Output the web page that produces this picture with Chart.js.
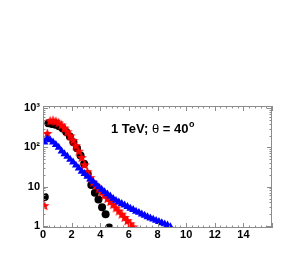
<!DOCTYPE html>
<html lang="en">
<head>
  <meta charset="UTF-8">
  <title>1 TeV; theta = 40</title>
  <script src="https://cdn.jsdelivr.net/npm/chart.js"></script>
  <style>
    html, body { margin: 0; padding: 0; background: #fff; }
    #wrap { width: 305px; height: 256px; }
  </style>
</head>
<body>
<div id="wrap"><canvas id="c" width="305" height="256"></canvas></div>
<script>
  // black circles
  const blackX = [0.125, 0.375, 0.625, 0.875, 1.125, 1.375, 1.625, 1.875, 2.125, 2.375,
                  2.625, 2.875, 3.125, 3.375, 3.625, 3.875, 4.125, 4.375, 4.625];
  const blackY = [5.5, 410, 395, 375, 345, 300, 245, 190, 135, 95,
                  62, 38, 21, 11, 7, 4.7, 3, 2, 0.92];

  // red stars
  const redX = [0.1, 0.3, 0.5, 0.7, 0.9, 1.1, 1.3, 1.5, 1.7, 1.9, 2.1, 2.3, 2.5, 2.7, 2.9,
                3.1, 3.3, 3.5, 3.7, 3.9, 4.1, 4.3, 4.5, 4.7, 4.9, 5.1, 5.3, 5.5, 5.7, 5.9, 6.1, 6.3];
  const redY = [3.3, 225, 470, 490, 460, 420, 370, 310, 250, 195, 150, 110, 80, 55, 36,
                24, 17, 13, 10.6, 8.8, 7.3, 6.1, 5.0, 4.2, 3.5, 2.9, 2.4, 2.0, 1.65, 1.37, 1.14, 0.95];

  // blue triangles
  const blueX = [0.1, 0.3, 0.5, 0.7, 0.9, 1.1, 1.3, 1.5, 1.7, 1.9, 2.1, 2.3, 2.5, 2.7, 2.9,
                 3.1, 3.3, 3.5, 3.7, 3.9, 4.1, 4.3, 4.5, 4.7, 4.9, 5.1, 5.3, 5.5, 5.7, 5.9,
                 6.1, 6.3, 6.5, 6.7, 6.9, 7.1, 7.3, 7.5, 7.7, 7.9, 8.1, 8.3, 8.5, 8.7, 8.9];
  const blueY = [135, 166, 155, 135, 117, 100, 80, 68, 59, 49, 42, 35, 29.5, 24.5, 21.4,
                 18.2, 15.5, 13.5, 11.5, 9.8, 8.5, 7.4, 6.5, 5.75, 5.0, 4.45, 4.05, 3.7, 3.4, 3.1,
                 2.8, 2.6, 2.35, 2.2, 2.0, 1.86, 1.7, 1.58, 1.48, 1.38, 1.29, 1.2, 1.12, 1.05, 0.95];

  const xTicks = [0, 2, 4, 6, 8, 10, 12, 14];
  const yTicks = [1, 10, 100, 1000];
  const yTickLabels = ["1", "10", "10\u00B2", "10\u00B3"];

  function pts(xs, ys) { return xs.map((x, i) => ({ x: x, y: ys[i] })); }

  // filled five-pointed star for the red markers
  const star = document.createElement("canvas");
  star.width = 11; star.height = 11;
  (function () {
    const g = star.getContext("2d");
    g.fillStyle = "#ff0000";
    g.beginPath();
    for (let i = 0; i < 10; i++) {
      const r = i % 2 === 0 ? 5.5 : 2.3;
      const a = -Math.PI / 2 + i * Math.PI / 5;
      const px = 5.5 + r * Math.cos(a), py = 5.9 + r * Math.sin(a);
      if (i === 0) g.moveTo(px, py); else g.lineTo(px, py);
    }
    g.closePath();
    g.fill();
  })();

  const frameColor = "#8c8c8c";

  // frame, inside ticks and the title text
  const framePlugin = {
    id: "frame",
    afterDraw(chart) {
      const ctx = chart.ctx, a = chart.chartArea;
      const xs = chart.scales.x, ys = chart.scales.y;
      ctx.save();
      ctx.strokeStyle = frameColor;
      ctx.lineWidth = 1;
      ctx.strokeRect(a.left + 0.5, a.top + 0.5, a.right - a.left - 1, a.bottom - a.top - 1);
      ctx.beginPath();
      for (let v = 0; v <= 16.001; v += 0.4) {
        const px = Math.round(xs.getPixelForValue(v)) + 0.5;
        const major = Math.abs(v / 2 - Math.round(v / 2)) < 1e-6;
        const len = major ? 5 : 2.5;
        ctx.moveTo(px, a.bottom); ctx.lineTo(px, a.bottom - len);
        ctx.moveTo(px, a.top); ctx.lineTo(px, a.top + len);
      }
      for (let d = 1; d <= 1000; d *= 10) {
        for (let m = 1; m <= 9; m++) {
          const v = d * m;
          if (v < ys.min || v > ys.max) continue;
          const py = Math.round(ys.getPixelForValue(v)) + 0.5;
          const len = m === 1 ? 5 : 2.5;
          ctx.moveTo(a.left, py); ctx.lineTo(a.left + len, py);
          ctx.moveTo(a.right, py); ctx.lineTo(a.right - len, py);
        }
      }
      ctx.stroke();

      ctx.fillStyle = "#000";
      ctx.textBaseline = "middle";
      let tx = 111;
      const ty = 129;
      const parts = ["1 TeV; ", "\u03B8", " = 40"];
      parts.forEach(p => {
        ctx.font = (p === "\u03B8" ? "13px" : "bold 13px") + " 'Liberation Sans', Arial, sans-serif";
        ctx.fillText(p, tx, ty);
        tx += ctx.measureText(p).width;
      });
      ctx.font = "bold 9px 'Liberation Sans', Arial, sans-serif";
      ctx.fillText("o", tx + 0.5, ty - 4);
      ctx.restore();
    }
  };

  new Chart(document.getElementById("c"), {
    type: "scatter",
    data: {
      datasets: [
        {
          data: pts(blueX, blueY),
          pointStyle: "triangle",
          pointRadius: 4.6,
          backgroundColor: "#0000ff",
          borderColor: "#0000ff",
          borderWidth: 0
        },
        {
          data: pts(redX, redY),
          pointStyle: star,
          pointRadius: 5.5
        },
        {
          data: pts(blackX, blackY),
          pointStyle: "circle",
          pointRadius: 4,
          backgroundColor: "#000",
          borderColor: "#000",
          borderWidth: 0
        }
      ]
    },
    options: {
      responsive: false,
      animation: false,
      layout: { padding: { left: 0, right: 33, top: 106, bottom: 0 } },
      plugins: { legend: { display: false }, tooltip: { enabled: false } },
      scales: {
        x: {
          type: "linear",
          min: 0,
          max: 16,
          afterBuildTicks: s => { s.ticks = xTicks.map(v => ({ value: v })); },
          afterFit: s => { s.height = 28; },
          grid: { display: false, drawTicks: false },
          border: { display: false },
          ticks: {
            padding: 0,
            color: "#000",
            font: { family: "'Liberation Sans', Arial, sans-serif", size: 11, weight: "bold" },
            maxRotation: 0,
            autoSkip: false
          }
        },
        y: {
          type: "logarithmic",
          min: 0.89,
          max: 1125,
          afterBuildTicks: s => { s.ticks = yTicks.map(v => ({ value: v })); },
          afterFit: s => { s.width = 43; },
          grid: { display: false, drawTicks: false },
          border: { display: false },
          ticks: {
            padding: 3,
            color: "#000",
            font: { family: "'Liberation Sans', Arial, sans-serif", size: 11, weight: "bold" },
            autoSkip: false,
            callback: (v) => {
              const i = yTicks.indexOf(v);
              return i >= 0 ? yTickLabels[i] : "";
            }
          }
        }
      }
    },
    plugins: [framePlugin]
  });
</script>
</body>
</html>
